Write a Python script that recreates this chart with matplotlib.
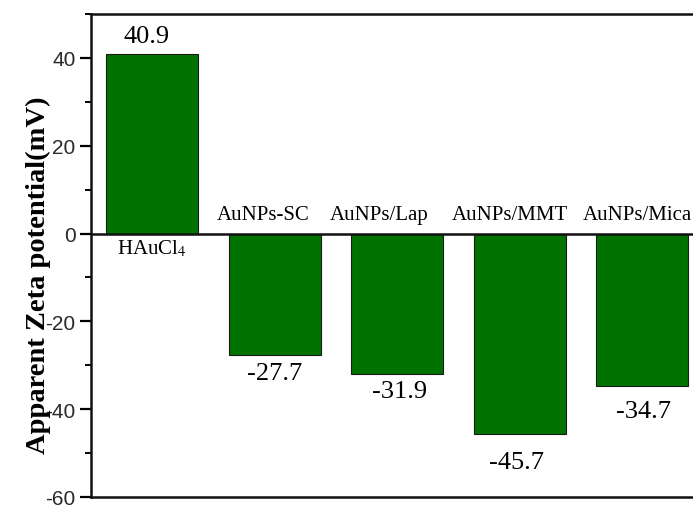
import matplotlib.pyplot as plt
from matplotlib.ticker import MultipleLocator

# Zeta potential of the gold precursor and the nanoparticle samples
samples = ["HAuCl$_4$", "AuNPs-SC", "AuNPs/Lap", "AuNPs/MMT", "AuNPs/Mica"]
zeta_mv = [40.9, -27.7, -31.9, -45.7, -34.7]

# hand-placed label nudges (points): value labels and sample names
value_dx = [-4.3, 0, 2, -2.5, 0.7]
value_dy = [5, -4.8, -4.8, -12, -10]
name_dx = [0, -8.6, -13, -7.2, -3.6]

plt.rcParams['font.family'] = ['Liberation Serif', 'DejaVu Serif']
plt.rcParams['mathtext.fontset'] = 'stix'
plt.rcParams['axes.unicode_minus'] = False

fig = plt.figure(figsize=(6.93, 5.06), dpi=100)
# the axes run a little past the right edge of the figure
ax = fig.add_axes([91 / 693, 8 / 506, 612.5 / 693, 483 / 506])

x = range(len(samples))
ax.bar(x, zeta_mv, width=0.75, color='#007200', edgecolor='#1a1a1a', linewidth=0.8)

for i, (name, v) in enumerate(zip(samples, zeta_mv)):
    up = v >= 0
    ax.annotate(f"{v}", (i, v), xytext=(value_dx[i], value_dy[i]),
                textcoords='offset points', ha='center',
                va='bottom' if up else 'top', fontsize=19)
    ax.annotate(name, (i, 0), xytext=(name_dx[i], -3 if up else 7),
                textcoords='offset points', ha='center',
                va='top' if up else 'bottom', fontsize=15)

ax.axhline(0, color='#111111', linewidth=1.8)

ax.set_xlim(-0.5, 4.5)
ax.set_ylim(-60, 50)
ax.yaxis.set_major_locator(MultipleLocator(20))
ax.yaxis.set_minor_locator(MultipleLocator(10))
ax.set_yticks([-60, -40, -20, 0, 20, 40])
ax.set_xticks([])
ax.tick_params(axis='y', which='major', length=8, width=1.6, labelsize=15, pad=3,
               labelcolor='#2a2a2a')
ax.tick_params(axis='y', which='minor', length=4.5, width=1.4)
for lbl in ax.get_yticklabels():
    lbl.set_family(['Liberation Sans', 'DejaVu Sans'])

for side in ax.spines.values():
    side.set_linewidth(1.8)
    side.set_color('#111111')

ax.set_ylabel("Apparent Zeta potential(mV)", fontsize=20.5, fontweight='bold')
ax.yaxis.set_label_coords(-0.065, 0.462)

fig.savefig("out.png", dpi=100)
